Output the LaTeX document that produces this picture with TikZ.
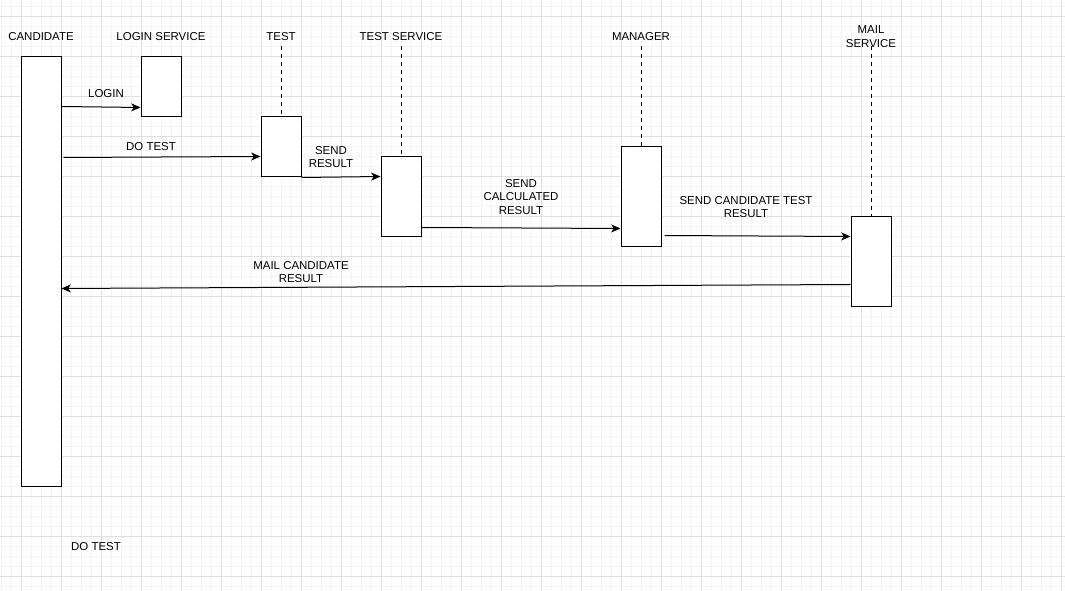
\documentclass[tikz,border=0pt]{standalone}
\usepackage{fontspec}
\setmainfont{Liberation Sans}
\usetikzlibrary{arrows.meta,calc}
\definecolor{gridminor}{HTML}{F4F4F4}
\definecolor{gridmajor}{HTML}{E0E0E0}

\begin{document}
\begin{tikzpicture}[
  x=0.75pt,y=-0.75pt,
  font=\fontsize{8.6pt}{10.4pt}\selectfont,
  lifebox/.style={draw,fill=white,line width=0.75pt,inner sep=0pt,
                  minimum width=30pt},
  title/.style={align=center},
  lbl/.style={align=center,inner sep=1pt},
  lifeline/.style={dashed,line width=0.75pt,dash pattern=on 3pt off 3pt},
  msg/.style={-{Stealth[length=7pt,width=6pt,inset=2pt]},line width=0.75pt}
]
  \useasboundingbox (0,0) rectangle (1065,591);
  % background grid
  \fill[white] (0,0) rectangle (1065,591);
  \begin{scope}[shift={(1,7)}]
    \draw[gridminor,line width=0.75pt,step={(10,-10)}] (-1,584) grid (1064,-7);
  \end{scope}
  \begin{scope}[shift={(21,17)}]
    \draw[gridmajor,line width=0.75pt,step={(40,-40)}] (-21,574) grid (1044,-17);
  \end{scope}

  % participants
  \node[title] (candT) at (41,37) {CANDIDATE};
  \node[title] (loginT) at (161,37) {LOGIN SERVICE};
  \node[title] (testT) at (281,37) {TEST};
  \node[title] (tsvcT) at (401,37) {TEST SERVICE};
  \node[title] (mgrT) at (641,37) {MANAGER};
  \node[title] (mailT) at (871,37) {MAIL\\SERVICE};

  \node[lifebox,minimum height=322.5pt] (cand) at (41,272) {};
  \node[lifebox,minimum height=45pt] (login) at (161,87) {};
  \node[lifebox,minimum height=45pt] (test) at (281,147) {};
  \node[lifebox,minimum height=60pt] (tsvc) at (401,197) {};
  \node[lifebox,minimum height=75pt] (mgr) at (641,197) {};
  \node[lifebox,minimum height=67.5pt] (mail) at (871,262) {};

  \draw[lifeline] (testT.south) -- (test.north);
  \draw[lifeline] (tsvcT.south) -- (tsvc.north);
  \draw[lifeline] (mgrT.south) -- (mgr.north);
  \draw[lifeline] (mail.north |- testT.south) -- (mail.north);

  % messages
  \draw[msg] ($(cand.north east)+(0,50)$) -- ($(login.south west)+(0,-10)$);
  \draw[msg] ($(cand.north east)+(2,101)$) -- ($(test.north west)+(0,40)$);
  \draw[msg] (test.south east) -- ($(tsvc.north west)+(0,20)$);
  \draw[msg] ($(tsvc.south east)+(0,-10)$) -- ($(mgr.north west)+(0,82)$);
  \draw[msg] ($(mgr.south east)+(3,-12)$) -- ($(mail.north west)+(0,20)$);
  \draw[msg] ($(mail.north west)+(0,68)$) -- ($(cand.north east)+(0,232)$);

  % labels
  \node[lbl] (lblLogin) at (106,94) {LOGIN};
  \node[lbl] (lblDo) at (151,147) {DO TEST};
  \node[lbl] (lblSend) at (331,157) {SEND\\RESULT};
  \node[lbl] (lblCalc) at (521,197) {SEND\\CALCULATED\\RESULT};
  \node[lbl] (lblCand) at (746,207) {SEND CANDIDATE TEST\\RESULT};
  \node[lbl] (lblMail) at (301,272) {MAIL CANDIDATE\\RESULT};
  \node[lbl] (lblDoTest) at (96,547) {DO TEST};
\end{tikzpicture}
\end{document}
